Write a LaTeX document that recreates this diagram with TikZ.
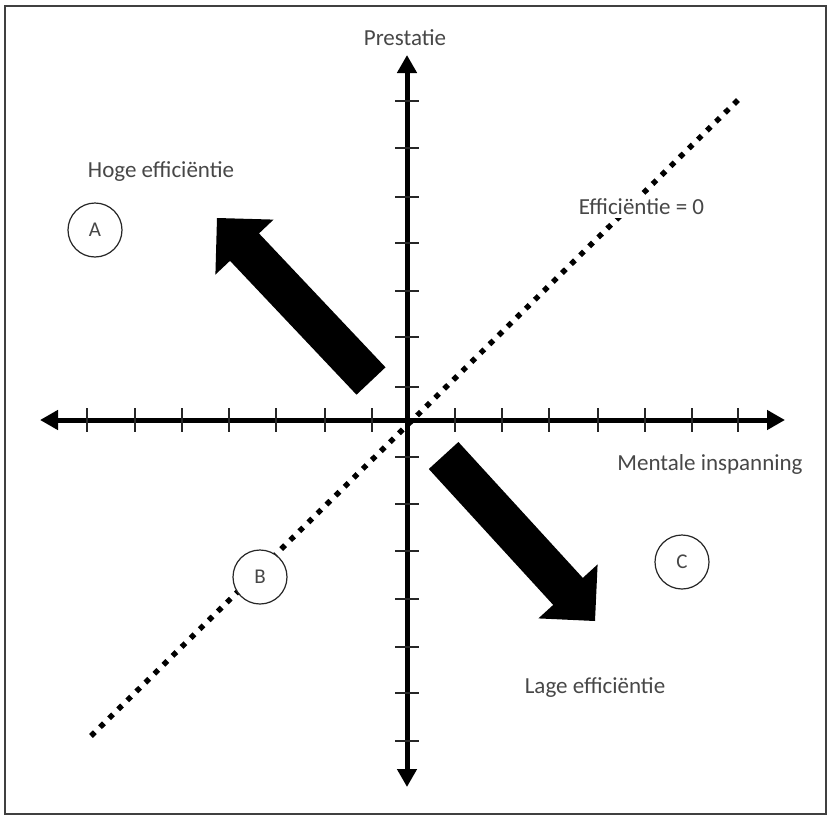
\documentclass[tikz,border=0pt]{standalone}
\usepackage{fontspec}
\setmainfont{Carlito}
\usetikzlibrary{arrows.meta}
\begin{document}
\begin{tikzpicture}[x=1pt,y=-1pt,
  lbl/.style={text=black!72, font=\fontsize{23}{28}\selectfont, anchor=base},
  letter/.style={circle, draw=black!85, line width=1.2pt, fill=white, minimum size=54pt, inner sep=0pt, text=black!72, font=\fontsize{21}{25}\selectfont},
  axisline/.style={line width=5pt, {Triangle[length=18pt,width=19pt]}-{Triangle[length=18pt,width=19pt]}},
  tickmark/.style={line width=2pt, black!85},
  bigarrow/.style={fill=black},
  effline/.style={line width=5.4pt, dash pattern=on 5.4pt off 7.3pt}
]
\useasboundingbox (0,0) rectangle (830,819);
\draw[line width=1.2pt, black!75] (5,6) rectangle (826,814);

% efficiency = 0 line
\coordinate (e1) at (91,736);
\coordinate (e2) at (738,100);
\draw[effline] (e1) -- (e2);

% axes
\coordinate (xl) at (40,420);
\coordinate (xr) at (785,420);
\coordinate (yt) at (407,55);
\coordinate (yb) at (407,787);
\draw[axisline] (xl) -- (xr);
\draw[axisline] (yb) -- (yt);
\foreach \x in {87,135,182,229,276,325,372,455,502,549,598,645,692,738}
  \draw[tickmark] (\x,408) -- (\x,432);
\foreach \y in {101,148,197,243,291,337,387,457,504,551,599,647,693,741}
  \draw[tickmark] (395,\y) -- (419,\y);

% big arrows
\fill[bigarrow] (217,218) -- (273.6,219.6) -- (259,233.4) -- (385.5,367.3) -- (356.5,394.7) -- (230,260.8) -- (215.4,274.6) -- cycle;
\fill[bigarrow] (595,621) -- (597.6,564.4) -- (582.8,577.9) -- (458.4,442) -- (428.8,469) -- (553.2,604.9) -- (538.4,618.4) -- cycle;

% circles
\node[letter] (A) at (95,230) {A};
\node[letter] (B) at (260,577) {B};
\node[letter] (C) at (682,562) {C};

% labels
\node[lbl] (prest) at (405,45) {Prestatie};
\node[lbl] (hoog) at (161,177) {Hoge efficiëntie};
\node[lbl, fill=white] (nul) at (641.5,214) {Efficiëntie = 0};
\node[lbl] (ment) at (710,470) {Mentale inspanning};
\node[lbl] (laag) at (595,693) {Lage efficiëntie};
\end{tikzpicture}
\end{document}
